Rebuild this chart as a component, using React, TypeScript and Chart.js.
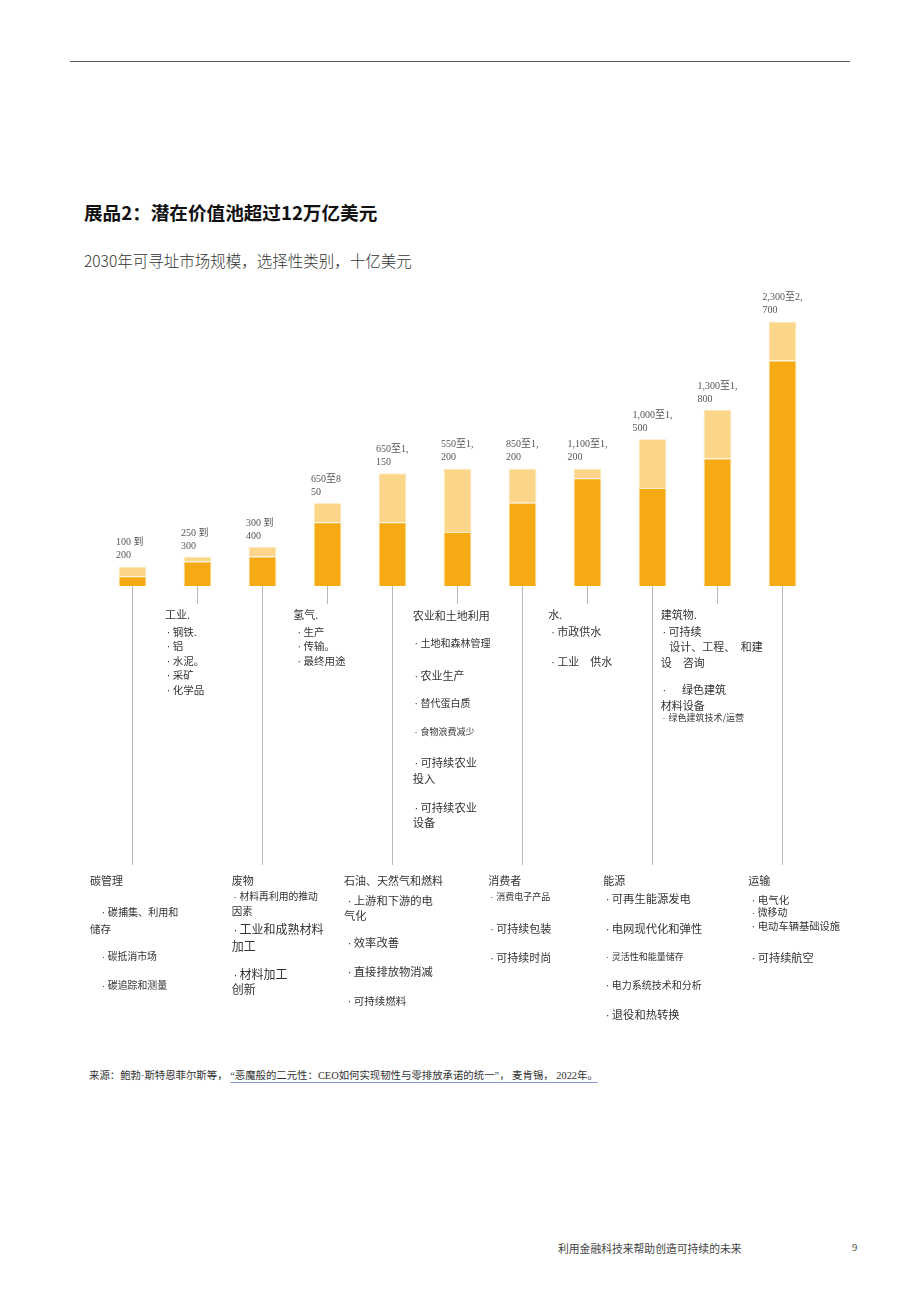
import React, { useEffect, useRef, useState } from "react";
import { Chart, registerables } from "chart.js";

Chart.register(...registerables);

// ---------------- data ----------------
const categories = ["碳管理", "工业.", "废物", "氢气.", "石油、天然气和燃料", "农业和土地利用", "消费者", "水.", "能源", "建筑物.", "运输"];
const lowValues = [100, 250, 300, 650, 650, 550, 850, 1100, 1000, 1300, 2300];
const highValues = [200, 300, 400, 850, 1150, 1200, 1200, 1200, 1500, 1800, 2700];
const rangeLabels = [
  "100 到\n200",
  "250 到\n300",
  "300 到\n400",
  "650至8\n50",
  "650至1,\n150",
  "550至1,\n200",
  "850至1,\n200",
  "1,100至1,\n200",
  "1,000至1,\n500",
  "1,300至1,\n800",
  "2,300至2,\n700",
];
const subItems: string[][] = [
  ["·碳捕集、利用和", "储存", "·碳抵消市场", "·碳追踪和测量"],
  ["·钢铁.", "·铝", "·水泥。", "·采矿", "·化学品"],
  ["·材料再利用的推动", "因素", "·工业和成熟材料", "加工", "·材料加工", "创新"],
  ["·生产", "·传输。", "·最终用途"],
  ["·上游和下游的电", "气化", "·效率改善", "·直接排放物消减", "·可持续燃料"],
  ["·土地和森林管理", "·农业生产", "·替代蛋白质", "·食物浪费减少", "·可持续农业", "投入", "·可持续农业", "设备"],
  ["·消费电子产品", "·可持续包装", "·可持续时尚"],
  ["·市政供水", "·工业　供水"],
  ["·可再生能源发电", "·电网现代化和弹性", "·灵活性和能量储存", "·电力系统技术和分析", "·退役和热转换"],
  ["·可持续", "设计、工程、　和建", "设　咨询", "·　 绿色建筑", "材料设备", "·绿色建筑技术/运营"],
  ["·电气化", "·微移动", "·电动车辆基础设施", "·可持续航空"],
];
const titleText = "展品2：潜在价值池超过12万亿美元";
const subtitleText = "2030年可寻址市场规模，选择性类别，十亿美元";
const sourcePrefix = "来源：鲍勃·斯特恩菲尔斯等， ";
const sourceLink = "“恶魔般的二元性：CEO如何实现韧性与零排放承诺的统一”， 麦肯锡， 2022年。";
const footerText = "利用金融科技来帮助创造可持续的未来";
const pageNumber = "9";

// ---------------- layout ----------------
const PAGE_W = 920;
const PAGE_H = 1302;
const CANVAS_H = 880;
const PLOT_LEFT = 100;
const PLOT_RIGHT = 815;
const PLOT_BOTTOM = 586;
const Y_MAX = 3000;
const PX_PER_UNIT = 0.098;
const SHORT_END = 604;
const LONG_END = 865;

const headingPos: [number, number][] = [
  [90, 880], [165, 614], [231.7, 880], [293.3, 614], [344, 880], [412.7, 615],
  [488.3, 880], [548.3, 614], [603.3, 880], [660.7, 614], [748.3, 880],
];
// x (dot position or text start), y centre, font size
const itemPos: [number, number, number][][] = [
  [[103.3, 911.7, 10.1], [90, 928.3, 10.5], [103.3, 955.7, 9.8], [103.3, 985, 9.9]],
  [[168.3, 631, 10.5], [168.3, 645.7, 10.5], [168.3, 660, 10.5], [168.3, 674.3, 10.5], [168.3, 689, 10.5]],
  [[235, 895.7, 9.8], [231.7, 910.7, 10.5], [235, 928, 12], [231.7, 945.7, 12], [235, 973, 12], [231.7, 988.3, 12]],
  [[299, 631, 10.5], [299, 645.7, 10.5], [299, 660, 10.5]],
  [[349.3, 900, 11.3], [344, 915, 11.3], [349.3, 941.7, 11.3], [349.3, 970.7, 11.3], [349.3, 1000, 10.5]],
  [[416, 643.3, 10], [416, 675, 11], [416, 702.7, 10], [416, 731, 9], [416, 762, 11.3], [412.7, 778, 11.3], [416, 806.7, 11.3], [412.7, 822, 11.3]],
  [[491.7, 896, 9], [491.7, 928.3, 11], [491.7, 957.3, 11]],
  [[552.7, 631.7, 11], [552.7, 661, 11]],
  [[607.3, 898.3, 11.3], [607.3, 928.3, 11.3], [607.3, 956.7, 9], [607.3, 985, 10], [607.3, 1014, 11.3]],
  [[664, 631.7, 11], [669.3, 646.7, 11], [660.7, 662, 11], [664, 689, 11], [660.7, 705, 11], [664, 717.7, 9]],
  [[753.3, 899, 10.5], [753.3, 912.3, 9.8], [753.3, 925.7, 10.3], [753.3, 957.3, 11.2]],
];

const CJK = '"Noto Sans CJK SC", "Noto Sans", sans-serif';
const SERIF = '"Liberation Serif", "DejaVu Serif", "Noto Sans CJK SC", serif';
const DARK = "#F5AA14";
const LIGHT = "#FBD68A";
const TEXT = "#333";

function TextLine(props: { text: string; x: number; y: number; size: number; color?: string }) {
  const { text, x, y, size, color } = props;
  const lh = Math.round(size * 1.4);
  const dot = text.startsWith("·");
  return (
    <div
      style={{
        position: "absolute",
        left: dot ? x - 1.5 : x,
        top: y - lh / 2,
        fontSize: size,
        lineHeight: lh + "px",
        whiteSpace: "pre",
        color: color || TEXT,
        fontFamily: CJK,
      }}
    >
      {dot ? (
        <>
          <span style={{ display: "inline-block", width: 6, fontFamily: '"Liberation Sans", sans-serif' }}>·</span>
          {text.slice(1)}
        </>
      ) : (
        text
      )}
    </div>
  );
}

export default function App() {
  const canvasRef = useRef<HTMLCanvasElement | null>(null);
  const [labelPos, setLabelPos] = useState<{ x: number; y: number }[]>([]);

  useEffect(() => {
    const canvas = canvasRef.current;
    if (!canvas) return;
    const leaderPlugin = {
      id: "leaders",
      afterDatasetsDraw(chart: any) {
        const ctx = chart.ctx;
        ctx.save();
        ctx.strokeStyle = "#b9b9b9";
        ctx.lineWidth = 1;
        categories.forEach((_, i) => {
          const x = Math.floor(chart.scales.x.getPixelForValue(i)) + 0.5;
          ctx.beginPath();
          ctx.moveTo(x, chart.chartArea.bottom);
          ctx.lineTo(x, i % 2 === 0 ? LONG_END : SHORT_END);
          ctx.stroke();
        });
        ctx.restore();
      },
    };
    const chart = new Chart(canvas, {
      type: "bar",
      data: {
        labels: categories,
        datasets: [
          {
            label: "low",
            data: lowValues,
            backgroundColor: DARK,
            borderColor: "rgba(253,232,185,0.9)",
            borderWidth: 1,
            barPercentage: 0.43,
            categoryPercentage: 1,
            stack: "s",
          },
          {
            label: "high",
            data: highValues.map((h, i) => h - lowValues[i]),
            backgroundColor: LIGHT,
            borderColor: "rgba(253,236,200,0.9)",
            borderWidth: 1,
            barPercentage: 0.43,
            categoryPercentage: 1,
            stack: "s",
          },
        ],
      },
      options: {
        responsive: false,
        animation: false,
        devicePixelRatio: 1,
        layout: {
          padding: {
            left: PLOT_LEFT,
            right: PAGE_W - PLOT_RIGHT,
            top: PLOT_BOTTOM - Y_MAX * PX_PER_UNIT,
            bottom: CANVAS_H - PLOT_BOTTOM,
          },
        },
        scales: {
          x: { display: false, stacked: true },
          y: { display: false, stacked: true, min: 0, max: Y_MAX },
        },
        plugins: { legend: { display: false }, tooltip: { enabled: false } },
      },
      plugins: [leaderPlugin],
    } as any);
    setLabelPos(
      highValues.map((h, i) => ({
        x: chart.scales.x.getPixelForValue(i),
        y: chart.scales.y.getPixelForValue(h),
      }))
    );
    return () => chart.destroy();
  }, []);

  return (
    <div
      style={{
        position: "absolute",
        left: 0,
        top: 0,
        width: PAGE_W,
        height: PAGE_H,
        background: "#fff",
        fontFamily: CJK,
        overflow: "hidden",
      }}
    >
      <div style={{ position: "absolute", left: 70, top: 61, width: 780, height: 1, background: "#555" }} />
      <div
        style={{
          position: "absolute",
          left: 84,
          top: 212 - 13,
          fontSize: 18.6,
          lineHeight: "26px",
          fontWeight: 700,
          color: "#111",
          whiteSpace: "pre",
        }}
      >
        {titleText}
      </div>
      <div
        style={{
          position: "absolute",
          left: 84,
          top: 260 - 11,
          fontSize: 15.5,
          lineHeight: "22px",
          fontWeight: 300,
          color: "#333",
          whiteSpace: "pre",
        }}
      >
        {subtitleText}
      </div>

      <canvas
        ref={canvasRef}
        width={PAGE_W}
        height={CANVAS_H}
        style={{ position: "absolute", left: 0, top: 0, width: PAGE_W, height: CANVAS_H }}
      />

      {labelPos.map((p, i) => (
        <div
          key={"v" + i}
          style={{
            position: "absolute",
            left: p.x,
            top: p.y - 5,
            transform: "translate(-50%, -100%)",
            minWidth: 33,
            textAlign: "left",
            whiteSpace: "pre",
            fontFamily: SERIF,
            fontSize: 10,
            lineHeight: "13px",
            color: "#555",
          }}
        >
          {rangeLabels[i]}
        </div>
      ))}

      {categories.map((c, i) => (
        <React.Fragment key={"c" + i}>
          <TextLine text={c} x={headingPos[i][0]} y={headingPos[i][1]} size={11} />
          {subItems[i].map((t, j) => (
            <TextLine key={j} text={t} x={itemPos[i][j][0]} y={itemPos[i][j][1]} size={itemPos[i][j][2]} />
          ))}
        </React.Fragment>
      ))}

      <div
        style={{
          position: "absolute",
          left: 89,
          top: 1076 - 8,
          fontSize: 10.4,
          lineHeight: "16px",
          whiteSpace: "pre",
          color: "#333",
          fontFamily: SERIF,
        }}
      >
        {sourcePrefix}
        <span
          style={{
            textDecoration: "underline",
            textDecorationColor: "#8a9ccc",
            textUnderlineOffset: 3,
          }}
        >
          {sourceLink}
        </span>
      </div>

      <div
        style={{
          position: "absolute",
          left: 558,
          top: 1248 - 8,
          fontSize: 10.8,
          lineHeight: "16px",
          whiteSpace: "pre",
          color: "#444",
        }}
      >
        {footerText}
      </div>
      <div
        style={{
          position: "absolute",
          left: 852,
          top: 1248 - 8,
          fontSize: 10.5,
          lineHeight: "16px",
          color: "#444",
          fontFamily: SERIF,
        }}
      >
        {pageNumber}
      </div>
    </div>
  );
}
